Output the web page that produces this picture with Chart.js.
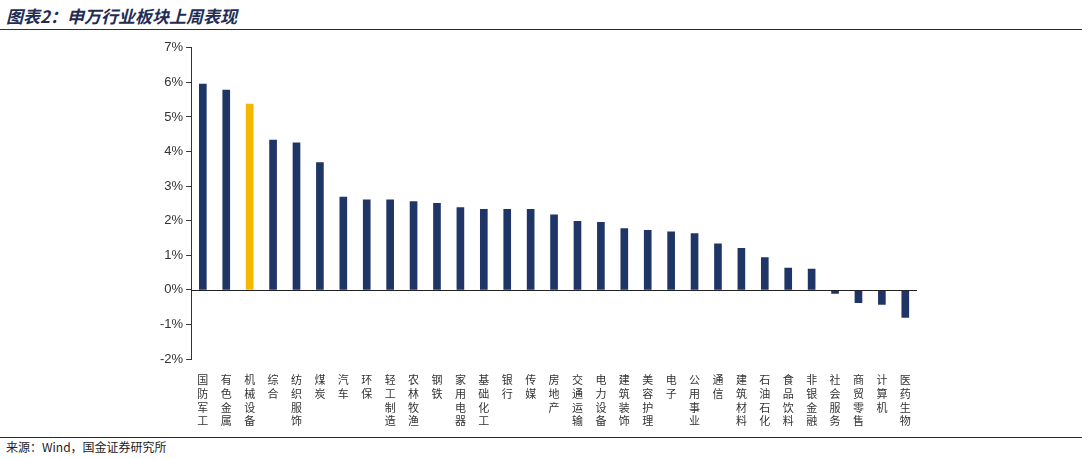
<!DOCTYPE html>
<html><head><meta charset="utf-8">
<script src="https://cdn.jsdelivr.net/npm/chart.js@4/dist/chart.umd.min.js"></script>
<style>
body{margin:0;width:1082px;height:459px;background:#fff;font-family:"Noto Sans CJK SC",sans-serif;position:relative;overflow:hidden}
#title{position:absolute;left:6px;top:3px;font-size:17px;font-weight:bold;font-style:italic;color:#1f2d55}
#top{position:absolute;left:0;top:29px;width:1082px;border-top:1.5px solid #1f2d55}
#bot{position:absolute;left:0;top:437px;width:1082px;border-top:1px solid #1f2d55}
#src{position:absolute;left:6px;top:438px;font-size:12px;color:#222}
#wrap{position:absolute;left:0;top:37px;width:1082px;height:397px}
</style></head><body>
<div id="title">图表2：申万行业板块上周表现</div>
<div id="top"></div>
<div id="wrap"><canvas id="c"></canvas></div>
<div id="bot"></div>
<div id="src">来源：Wind，国金证券研究所</div>
<script>
const categories = ['国防军工','有色金属','机械设备','综合','纺织服饰','煤炭','汽车','环保','轻工制造','农林牧渔','钢铁','家用电器','基础化工','银行','传媒','房地产','交通运输','电力设备','建筑装饰','美容护理','电子','公用事业','通信','建筑材料','石油石化','食品饮料','非银金融','社会服务','商贸零售','计算机','医药生物'];
const values = [5.95,5.78,5.37,4.33,4.25,3.68,2.68,2.6,2.6,2.55,2.5,2.38,2.33,2.33,2.33,2.17,1.98,1.95,1.77,1.72,1.68,1.63,1.33,1.2,0.93,0.63,0.6,-0.1,-0.37,-0.42,-0.8];
const highlight = '机械设备';

const zeroLine = {
  id: 'zeroLine',
  afterDatasetsDraw(chart) {
    const {ctx, chartArea, scales} = chart;
    const y = Math.round(scales.y.getPixelForValue(0)) + 0.5;
    ctx.save();
    ctx.strokeStyle = '#222';
    ctx.lineWidth = 1;
    ctx.beginPath();
    ctx.moveTo(chartArea.left, y);
    ctx.lineTo(chartArea.right, y);
    ctx.stroke();
    ctx.restore();
  }
};

new Chart(document.getElementById('c'), {
  type: 'bar',
  data: {
    labels: categories.map(s => s.split('')),
    datasets: [{
      data: values,
      backgroundColor: categories.map(c => c === highlight ? '#f5b800' : '#1f3566'),
      barThickness: 7
    }]
  },
  options: {
    responsive: true,
    maintainAspectRatio: false,
    animation: false,
    layout: {padding: {left: 157, right: 165, top: 3, bottom: 0}},
    plugins: {legend: {display: false}, tooltip: {enabled: false}},
    scales: {
      x: {
        grid: {display: false},
        border: {display: false},
        ticks: {maxRotation: 0, autoSkip: false, color: '#333', font: {size: 11, family: '"Noto Sans CJK SC"', lineHeight: 1.25}, padding: 6}
      },
      y: {
        min: -2, max: 7,
        grid: {drawOnChartArea: false, tickLength: 5, color: '#333'},
        border: {color: '#333'},
        ticks: {stepSize: 1, color: '#333', font: {size: 13, family: 'Arial'}, callback: v => v + '%'}
      }
    }
  },
  plugins: [zeroLine]
});
</script>
</body></html>
